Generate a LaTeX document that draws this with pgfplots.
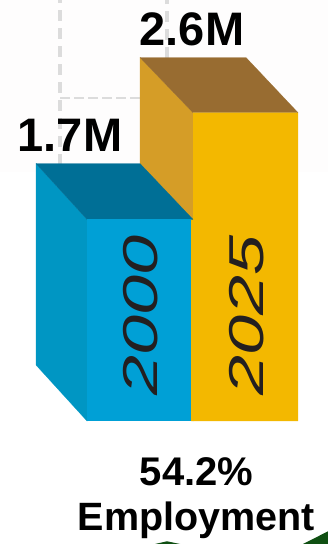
\documentclass[border=0pt]{standalone}
\usepackage{pgfplots}
\pgfplotsset{compat=1.18}
\usepackage{fontspec}
\setmainfont{Liberation Sans}
\definecolor{blueF}{HTML}{00A0D6}
\definecolor{blueS}{HTML}{0096C3}
\definecolor{blueT}{HTML}{006F96}
\definecolor{yelF}{HTML}{F3B800}
\definecolor{yelS}{HTML}{D59D27}
\definecolor{yelT}{HTML}{986C31}
\definecolor{txt}{HTML}{231F20}
\definecolor{gridg}{HTML}{DCDCDC}
\definecolor{bgw}{HTML}{FEFDFD}
\definecolor{gr}{HTML}{0F4F12}
\begin{document}
\begin{tikzpicture}
\begin{axis}[
  scale only axis, width=328pt, height=544pt,
  xmin=0, xmax=328, ymin=-1.037, ymax=3.55,
  hide axis, clip=true,
]
% faint background
\addplot[draw=none, fill=bgw] coordinates {(0,2.1)(328,2.1)(328,3.55)(0,3.55)} --cycle;
% dashed guide lines
\addplot[gridg, line width=3.6pt, dash pattern=on 11pt off 7pt] coordinates {(60,2.16)(60,3.55)};
\addplot[gridg, line width=3.6pt, dash pattern=on 11pt off 7pt] coordinates {(167,3.06)(167,3.55)};
\addplot[gridg, line width=2pt, dash pattern=on 10pt off 4pt] coordinates {(60,2.72)(140,2.72)};
% 2025
\addplot[yelS, line width=0.2pt, fill=yelS] coordinates {(140,0.464)(193,0)(193,2.6)(140,3.065)} --cycle;
\addplot[yelT, line width=0.2pt, fill=yelT] coordinates {(140,3.065)(246,3.065)(298,2.6)(193,2.6)} --cycle;
\addplot[draw=none, fill=yelF] coordinates {(191,0)(298,0)(298,2.6)(193,2.6)(193,1.7)(191,1.7)} --cycle;
% 2000
\addplot[blueS, line width=0.2pt, fill=blueS] coordinates {(36,0.472)(87,0)(87,1.7)(36,2.171)} --cycle;
\addplot[blueT, line width=0.2pt, fill=blueT] coordinates {(36,2.171)(140,2.171)(193,1.7)(87,1.7)} --cycle;
\addplot[draw=none, fill=blueF] coordinates {(87,0)(191,0)(191,1.7)(87,1.7)} --cycle;
% bottom green
\addplot[draw=none, fill=gr] coordinates {(155,-1.037)(167,-1.014)(180,-1.037)} --cycle;
\addplot[draw=none, fill=gr] coordinates {(303,-1.037)(328,-0.93)(328,-1.037)} --cycle;
% labels
\node[font=\fontsize{47}{47}\selectfont\bfseries, inner sep=0pt] at (axis cs:192,3.305) {2.6M};
\node[font=\fontsize{47}{47}\selectfont\bfseries, inner sep=0pt] at (axis cs:70,2.41) {1.7M};
\node[font=\fontsize{49}{49}\selectfont\itshape, text=txt, rotate=90, xscale=1.47, inner sep=0pt] at (axis cs:141,0.89) {2000};
\node[font=\fontsize{49}{49}\selectfont\itshape, text=txt, rotate=90, xscale=1.47, inner sep=0pt] at (axis cs:247,0.89) {2025};
\node[font=\fontsize{40}{40}\selectfont\bfseries, inner sep=0pt] at (axis cs:196.5,-0.43) {54.2\%};
\node[font=\fontsize{39.5}{39.5}\selectfont\bfseries, inner sep=0pt] at (axis cs:196.5,-0.84) {Employment};
\end{axis}
\end{tikzpicture}
\end{document}
